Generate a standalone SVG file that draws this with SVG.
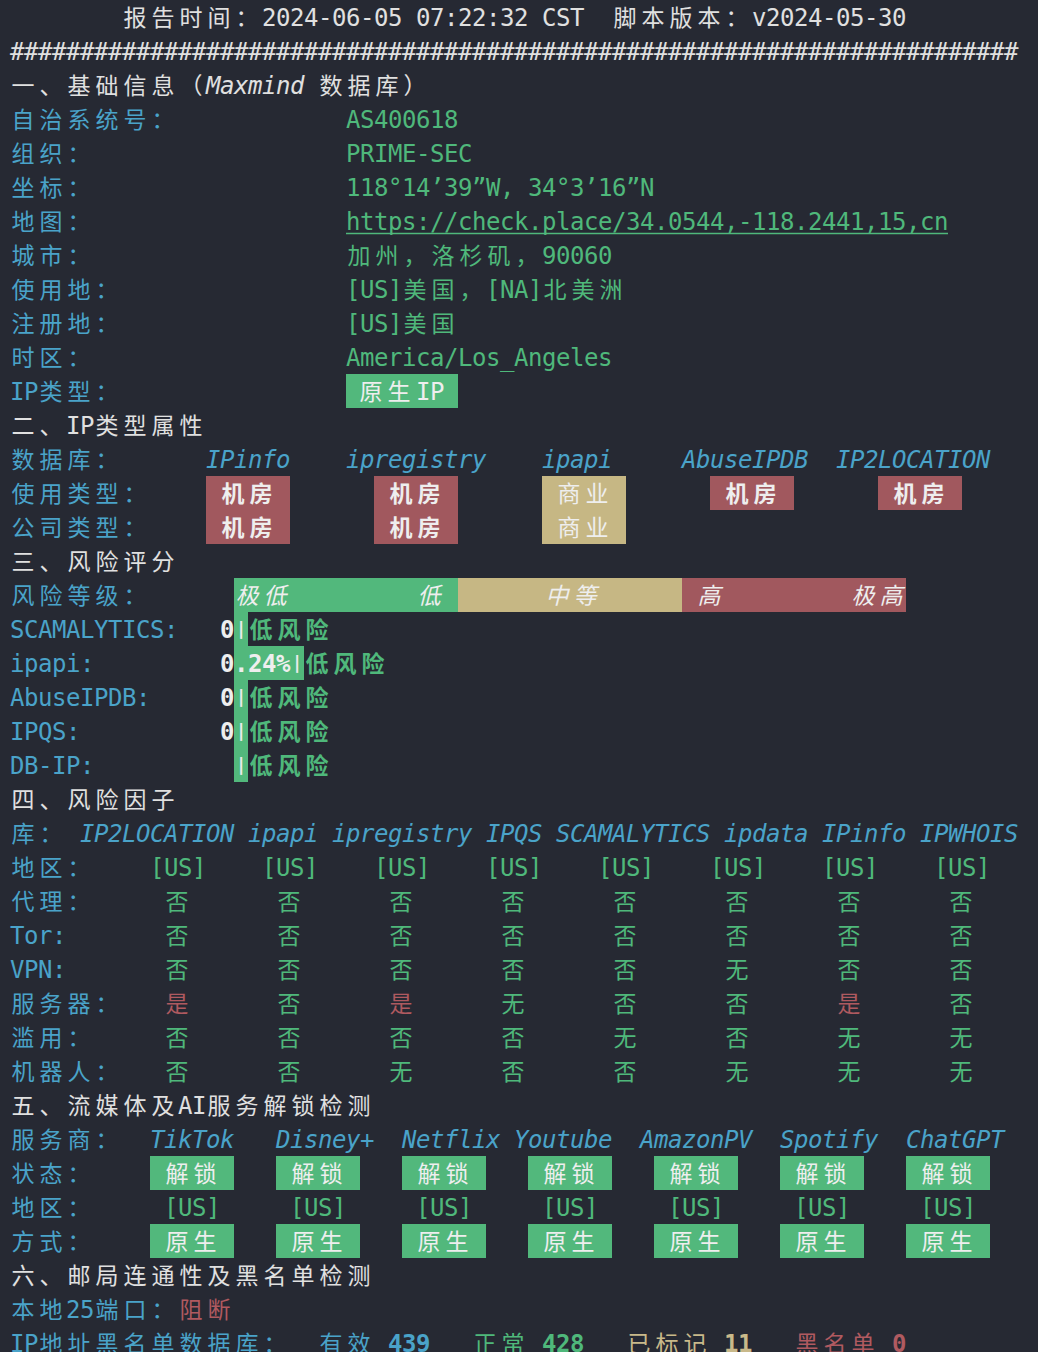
<svg xmlns="http://www.w3.org/2000/svg" width="1038" height="1352" viewBox="0 0 1038 1352">
<style>
.m{font-family:"DejaVu Sans Mono","Liberation Mono",monospace;font-size:24px;letter-spacing:-0.45px}
.c{font-family:"Noto Sans CJK SC","Noto Sans CJK JP",sans-serif;font-size:23px;letter-spacing:5px}
.p{font-family:"DejaVu Sans Mono",monospace;font-size:17px;font-weight:bold;fill:#ececec}
.i{font-style:italic}
.b{font-weight:bold}
.w{fill:#e0e0e0}
.bl{fill:#4aa3c9}
.g{fill:#4fb87b}
.r{fill:#b05a60}
.y{fill:#c9b98a}
.bw{fill:#eeeeee}
.gb{fill:#52b87c}
.rb{fill:#a1585e}
.tb{fill:#c6b784}
</style>
<rect x="0" y="0" width="1038" height="1352" fill="#262933"/>

<g id="header">
<text class="c w" x="123.5" y="26">报告时间：</text>
<text class="m w" x="262" y="26">2024-06-05 07:22:32 CST</text>
<text class="c w" x="613.5" y="26">脚本版本：</text>
<text class="m w" x="752" y="26">v2024-05-30</text>
<text class="m w" x="10" y="60">########################################################################</text>
</g>

<g id="basic-info">
<text class="c w" x="11.5" y="94">一、基础信息（</text>
<text class="m w i" x="206" y="94">Maxmind</text>
<text class="c w" x="319.5" y="94">数据库）</text>
<text class="c bl" x="11.5" y="128">自治系统号：</text>
<text class="m g" x="346" y="128">AS400618</text>
<text class="c bl" x="11.5" y="162">组织：</text>
<text class="m g" x="346" y="162">PRIME-SEC</text>
<text class="c bl" x="11.5" y="196">坐标：</text>
<text class="m g" x="346" y="196">118°14’39”W, 34°3’16”N</text>
<text class="c bl" x="11.5" y="230">地图：</text>
<text class="m g" x="346" y="230">https://check.place/34.0544,-118.2441,15,cn</text>
<line x1="346" y1="233.5" x2="948" y2="233.5" stroke="#4fb87b" stroke-width="1.6"/>
<text class="c bl" x="11.5" y="264">城市：</text>
<text class="c g" x="347.5" y="264">加州，洛杉矶，</text>
<text class="m g" x="542" y="264">90060</text>
<text class="c bl" x="11.5" y="298">使用地：</text>
<text class="m g" x="346" y="298">[US]</text>
<text class="c g" x="403.5" y="298">美国，</text>
<text class="m g" x="486" y="298">[NA]</text>
<text class="c g" x="543.5" y="298">北美洲</text>
<text class="c bl" x="11.5" y="332">注册地：</text>
<text class="m g" x="346" y="332">[US]</text>
<text class="c g" x="403.5" y="332">美国</text>
<text class="c bl" x="11.5" y="366">时区：</text>
<text class="m g" x="346" y="366">America/Los_Angeles</text>
<text class="m bl" x="10" y="400">IP</text>
<text class="c bl" x="39.5" y="400">类型：</text>
<rect class="gb" x="346" y="374" width="112" height="34"/>
<text class="c bw" x="359.5" y="400">原生</text>
<text class="m bw" x="416" y="400">IP</text>
</g>

<g id="ip-type">
<text class="c w" x="11.5" y="434">二、</text>
<text class="m w" x="66" y="434">IP</text>
<text class="c w" x="95.5" y="434">类型属性</text>
<text class="c bl" x="11.5" y="468">数据库：</text>
<text class="m bl i" x="206" y="468">IPinfo</text>
<text class="m bl i" x="346" y="468">ipregistry</text>
<text class="m bl i" x="542" y="468">ipapi</text>
<text class="m bl i" x="682" y="468">AbuseIPDB</text>
<text class="m bl i" x="836" y="468">IP2LOCATION</text>
<text class="c bl" x="11.5" y="502">使用类型：</text>
<text class="c bl" x="11.5" y="536">公司类型：</text>
<rect class="rb" x="206" y="476" width="84" height="68"/>
<rect class="rb" x="374" y="476" width="84" height="68"/>
<rect class="tb" x="542" y="476" width="84" height="68"/>
<rect class="rb" x="710" y="476" width="84" height="34"/>
<rect class="rb" x="878" y="476" width="84" height="34"/>
<text class="c bw b" x="221.5" y="502">机房</text>
<text class="c bw b" x="389.5" y="502">机房</text>
<text class="c bw" x="557.5" y="502">商业</text>
<text class="c bw b" x="725.5" y="502">机房</text>
<text class="c bw b" x="893.5" y="502">机房</text>
<text class="c bw b" x="221.5" y="536">机房</text>
<text class="c bw b" x="389.5" y="536">机房</text>
<text class="c bw" x="557.5" y="536">商业</text>
</g>

<g id="risk-score">
<text class="c w" x="11.5" y="570">三、风险评分</text>
<text class="c bl" x="11.5" y="604">风险等级：</text>
<rect class="gb" x="234" y="578" width="224" height="34"/>
<rect class="tb" x="458" y="578" width="224" height="34"/>
<rect class="rb" x="682" y="578" width="224" height="34"/>
<rect class="gb" x="234" y="612" width="14" height="170"/>
<rect class="gb" x="248" y="646" width="56" height="34"/>
<text class="c bw i" x="235.5" y="604">极低</text>
<text class="c bw i" x="417.5" y="604">低</text>
<text class="c bw i" x="545.5" y="604">中等</text>
<text class="c bw i" x="697.5" y="604">高</text>
<text class="c bw i" x="851.5" y="604">极高</text>

<text class="m bl" x="10" y="638">SCAMALYTICS:</text>
<text class="m bw b" x="220" y="638">0</text>
<text class="p" x="241" y="635" text-anchor="middle">|</text>
<text class="c g b" x="249.5" y="638">低风险</text>

<text class="m bl" x="10" y="672">ipapi:</text>
<text class="m bw b" x="220" y="672">0.24%</text>
<text class="p" x="297" y="669" text-anchor="middle">|</text>
<text class="c g b" x="305.5" y="672">低风险</text>

<text class="m bl" x="10" y="706">AbuseIPDB:</text>
<text class="m bw b" x="220" y="706">0</text>
<text class="p" x="241" y="703" text-anchor="middle">|</text>
<text class="c g b" x="249.5" y="706">低风险</text>

<text class="m bl" x="10" y="740">IPQS:</text>
<text class="m bw b" x="220" y="740">0</text>
<text class="p" x="241" y="737" text-anchor="middle">|</text>
<text class="c g b" x="249.5" y="740">低风险</text>

<text class="m bl" x="10" y="774">DB-IP:</text>
<text class="p" x="241" y="771" text-anchor="middle">|</text>
<text class="c g b" x="249.5" y="774">低风险</text>
</g>

<g id="risk-factors">
<text class="c w" x="11.5" y="808">四、风险因子</text>
<text class="c bl" x="11.5" y="842">库：</text>
<text class="m bl i" x="80" y="842">IP2LOCATION</text>
<text class="m bl i" x="248" y="842">ipapi</text>
<text class="m bl i" x="332" y="842">ipregistry</text>
<text class="m bl i" x="486" y="842">IPQS</text>
<text class="m bl i" x="556" y="842">SCAMALYTICS</text>
<text class="m bl i" x="724" y="842">ipdata</text>
<text class="m bl i" x="822" y="842">IPinfo</text>
<text class="m bl i" x="920" y="842">IPWHOIS</text>

<text class="c bl" x="11.5" y="876">地区：</text>
<text class="m g" y="876"><tspan x="150">[US]</tspan><tspan x="262">[US]</tspan><tspan x="374">[US]</tspan><tspan x="486">[US]</tspan><tspan x="598">[US]</tspan><tspan x="710">[US]</tspan><tspan x="822">[US]</tspan><tspan x="934">[US]</tspan></text>

<text class="c bl" x="11.5" y="910">代理：</text>
<text class="c g" x="165.5 277.5 389.5 501.5 613.5 725.5 837.5 949.5" y="910">否否否否否否否否</text>
<text class="m bl" x="10" y="944">Tor:</text>
<text class="c g" x="165.5 277.5 389.5 501.5 613.5 725.5 837.5 949.5" y="944">否否否否否否否否</text>
<text class="m bl" x="10" y="978">VPN:</text>
<text class="c g" x="165.5 277.5 389.5 501.5 613.5 725.5 837.5 949.5" y="978">否否否否否无否否</text>
<text class="c bl" x="11.5" y="1012">服务器：</text>
<text class="c g" x="165.5 277.5 389.5 501.5 613.5 725.5 837.5 949.5" y="1012"><tspan class="r">是</tspan>否<tspan class="r">是</tspan>无否否<tspan class="r">是</tspan>否</text>
<text class="c bl" x="11.5" y="1046">滥用：</text>
<text class="c g" x="165.5 277.5 389.5 501.5 613.5 725.5 837.5 949.5" y="1046">否否否否无否无无</text>
<text class="c bl" x="11.5" y="1080">机器人：</text>
<text class="c g" x="165.5 277.5 389.5 501.5 613.5 725.5 837.5 949.5" y="1080">否否无否否无无无</text>
</g>

<g id="streaming">
<text class="c w" x="11.5" y="1114">五、流媒体及</text>
<text class="m w" x="178" y="1114">AI</text>
<text class="c w" x="207.5" y="1114">服务解锁检测</text>
<text class="c bl" x="11.5" y="1148">服务商：</text>
<text class="m bl i" x="150" y="1148">TikTok</text>
<text class="m bl i" x="276" y="1148">Disney+</text>
<text class="m bl i" x="402" y="1148">Netflix</text>
<text class="m bl i" x="514" y="1148">Youtube</text>
<text class="m bl i" x="640" y="1148">AmazonPV</text>
<text class="m bl i" x="780" y="1148">Spotify</text>
<text class="m bl i" x="906" y="1148">ChatGPT</text>

<text class="c bl" x="11.5" y="1182">状态：</text>
<rect class="gb" x="150" y="1156" width="84" height="34"/>
<rect class="gb" x="276" y="1156" width="84" height="34"/>
<rect class="gb" x="402" y="1156" width="84" height="34"/>
<rect class="gb" x="528" y="1156" width="84" height="34"/>
<rect class="gb" x="654" y="1156" width="84" height="34"/>
<rect class="gb" x="780" y="1156" width="84" height="34"/>
<rect class="gb" x="906" y="1156" width="84" height="34"/>
<text class="c bw" y="1182"><tspan x="165.5">解锁</tspan><tspan x="291.5">解锁</tspan><tspan x="417.5">解锁</tspan><tspan x="543.5">解锁</tspan><tspan x="669.5">解锁</tspan><tspan x="795.5">解锁</tspan><tspan x="921.5">解锁</tspan></text>

<text class="c bl" x="11.5" y="1216">地区：</text>
<text class="m g" y="1216"><tspan x="164">[US]</tspan><tspan x="290">[US]</tspan><tspan x="416">[US]</tspan><tspan x="542">[US]</tspan><tspan x="668">[US]</tspan><tspan x="794">[US]</tspan><tspan x="920">[US]</tspan></text>

<text class="c bl" x="11.5" y="1250">方式：</text>
<rect class="gb" x="150" y="1224" width="84" height="34"/>
<rect class="gb" x="276" y="1224" width="84" height="34"/>
<rect class="gb" x="402" y="1224" width="84" height="34"/>
<rect class="gb" x="528" y="1224" width="84" height="34"/>
<rect class="gb" x="654" y="1224" width="84" height="34"/>
<rect class="gb" x="780" y="1224" width="84" height="34"/>
<rect class="gb" x="906" y="1224" width="84" height="34"/>
<text class="c bw" y="1250"><tspan x="165.5">原生</tspan><tspan x="291.5">原生</tspan><tspan x="417.5">原生</tspan><tspan x="543.5">原生</tspan><tspan x="669.5">原生</tspan><tspan x="795.5">原生</tspan><tspan x="921.5">原生</tspan></text>
</g>

<g id="mail">
<text class="c w" x="11.5" y="1284">六、邮局连通性及黑名单检测</text>
<text class="c bl" x="11.5" y="1318">本地</text>
<text class="m bl" x="66" y="1318">25</text>
<text class="c bl" x="95.5" y="1318">端口：</text>
<text class="c r" x="179.5" y="1318">阻断</text>
<text class="m bl" x="10" y="1352">IP</text>
<text class="c bl" x="39.5" y="1352">地址黑名单数据库：</text>
<text class="c bl" x="319.5" y="1352">有效</text>
<text class="m bl b" x="388" y="1352">439</text>
<text class="c g" x="473.5" y="1352">正常</text>
<text class="m g b" x="542" y="1352">428</text>
<text class="c y" x="627.5" y="1352">已标记</text>
<text class="m y b" x="724" y="1352">11</text>
<text class="c r" x="795.5" y="1352">黑名单</text>
<text class="m r b" x="892" y="1352">0</text>
</g>
</svg>
